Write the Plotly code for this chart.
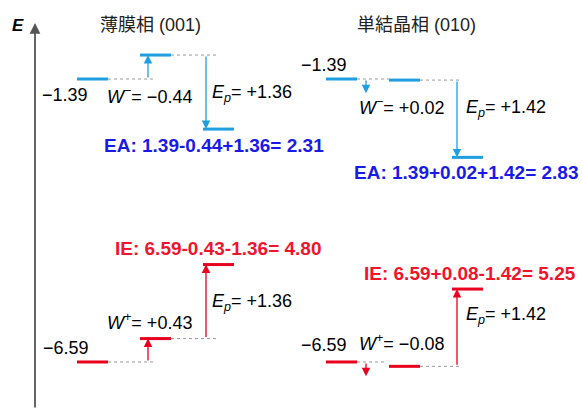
import plotly.graph_objects as go

# Energy-level data (eV) for the two phases
phases = ["薄膜相 (001)", "単結晶相 (010)"]
lumo = [-1.39, -1.39]          # gas-phase LUMO level
homo = [-6.59, -6.59]          # gas-phase HOMO level
w_minus = [-0.44, 0.02]        # electron polarization term W-
w_plus = [0.43, -0.08]         # hole polarization term W+
ep = [1.36, 1.42]              # polarization energy Ep

BLUE = "#1f9fe0"
RED = "#e8001c"
TXT_BLUE = "#1a1ae6"
TXT_RED = "#f0142d"
GRAY = "#9a9a9a"

W, H = 582, 409
Y_TOP, Y_BOT = 0.0617, -7.454

# horizontal layout of each panel (x in pixel-like units)
offset = [0, 249]
bar_x = [77, 140, 203]         # start of the three level bars in a panel
bar_w = 31
w_arrow_x = [148, 366]
ep_arrow_x = [206, 457]
dash1_end = [155, 384]
dash2_end = [217, 462]
title_x = [150, 416]
small_arrow = 0.26             # length of an indicator arrow for tiny W terms

def fmt(v, signed=True):
    s = f"{v:+.2f}" if signed else f"{v:.2f}"
    return s.replace("-", "\u2212")

fig = go.Figure()
fig.add_trace(go.Scatter(x=[None], y=[None], showlegend=False))

shapes = []
ann = []
LBL = dict(family="Liberation Sans, Arial, sans-serif", size=18, color="black")
BOLD = dict(family="Liberation Sans, Arial, sans-serif", size=19, color=TXT_BLUE)

def bar(x0, y, color):
    shapes.append(dict(type="line", xref="x", yref="y", x0=x0, x1=x0 + bar_w,
                       y0=y, y1=y, line=dict(color=color, width=3)))

def dash(x0, x1, y):
    shapes.append(dict(type="line", xref="x", yref="y", x0=x0, x1=x1, y0=y, y1=y,
                       line=dict(color=GRAY, width=1, dash="3px,3px")))

def arrow(x, y_from, y_to, color):
    ann.append(dict(x=x, y=y_to, ax=x, ay=y_from, xref="x", yref="y",
                    axref="x", ayref="y", text="", showarrow=True,
                    arrowhead=2, arrowsize=1.3, arrowwidth=1.3, arrowcolor=color,
                    standoff=0, startstandoff=0))

def label(x, y, text, font, yshift=0):
    ann.append(dict(x=x, y=y, xref="x", yref="y", text=text, showarrow=False,
                    font=font, xanchor="center", yanchor="middle", yshift=yshift))

for i in range(2):
    o = offset[i]
    xs = [b + o for b in bar_x]

    # electron side
    e1 = lumo[i]
    e2 = lumo[i] - w_minus[i]
    e3 = e2 - ep[i]
    ea = -lumo[i] + w_minus[i] + ep[i]
    bar(xs[0], e1, BLUE)
    bar(xs[1], e2, BLUE)
    bar(xs[2], e3, BLUE)
    dash(xs[0] + bar_w, dash1_end[i] if i == 0 else xs[1], e1)
    dash(xs[1] + bar_w, dash2_end[i], e2)
    if abs(w_minus[i]) > 0.1:
        arrow(w_arrow_x[i], e1, e2, BLUE)
    else:
        arrow(w_arrow_x[i], e1, e1 - small_arrow, BLUE)
    arrow(ep_arrow_x[i], e2, e3, BLUE)

    # hole side
    h1 = homo[i]
    h2 = homo[i] + w_plus[i]
    h3 = h2 + ep[i]
    ie = -homo[i] - w_plus[i] - ep[i]
    bar(xs[0], h1, RED)
    bar(xs[1], h2, RED)
    bar(xs[2], h3, RED)
    dash(xs[0] + bar_w, dash1_end[i], h1)
    dash(xs[1] + bar_w, dash2_end[i], h2)
    if abs(w_plus[i]) > 0.1:
        arrow(w_arrow_x[i], h1, h2, RED)
    else:
        arrow(w_arrow_x[i], h1, h1 - small_arrow, RED)
    arrow(ep_arrow_x[i], h2, h3, RED)

    # text labels
    ann.append(dict(x=title_x[i], y=1 - 25 / H, xref="x", yref="paper",
                    text=phases[i], showarrow=False, xanchor="center", yanchor="middle",
                    font=dict(family="Liberation Sans, Noto Sans CJK JP, sans-serif",
                              size=18, color="#222")))
    ep_txt = f"<i>E</i><sub><i>p</i></sub>= {fmt(ep[i])}"
    if i == 0:
        label(65, e1, fmt(e1, False), LBL, -16)
        label(149, e1, f"<i>W</i><sup>\u2212</sup>= {fmt(w_minus[i])}", LBL, -16)
        label(252, (e2 + e3) / 2, ep_txt, LBL, -1)
        label(214, e3, f"<b>EA: {-e1:.2f}{w_minus[i]:+.2f}{ep[i]:+.2f}= {ea:.2f}</b>",
              BOLD, -16)
        label(66, h1, fmt(h1, False), LBL, 14)
        label(149, h2, f"<i>W</i><sup>+</sup>= {fmt(w_plus[i])}", LBL, 17)
        label(252, (h2 + h3) / 2, ep_txt, LBL, -1)
        label(218, h3, f"<b>IE: {-h1:.2f}{-w_plus[i]:+.2f}{-ep[i]:+.2f}= {ie:.2f}</b>",
              dict(BOLD, color=TXT_RED), 16)
    else:
        label(324, e1, fmt(e1, False), LBL, 14)
        label(401, e1, f"<i>W</i><sup>\u2212</sup>= {fmt(w_minus[i])}", LBL, -27)
        label(506, (e2 + e3) / 2, ep_txt, LBL, 10)
        label(466, e3, f"<b>EA: {-e1:.2f}{w_minus[i]:+.2f}{ep[i]:+.2f}= {ea:.2f}</b>",
              BOLD, -15)
        label(324, h1, fmt(h1, False), LBL, 17)
        label(401, h1, f"<i>W</i><sup>+</sup>= {fmt(w_plus[i])}", LBL, 19)
        label(506, (h2 + h3) / 2, ep_txt, LBL, 12)
        label(470, h3, f"<b>IE: {-h1:.2f}{-w_plus[i]:+.2f}{-ep[i]:+.2f}= {ie:.2f}</b>",
              dict(BOLD, color=TXT_RED), 16)

# energy axis with arrow
ann.append(dict(x=35, y=1 - 23 / H, xref="x", yref="paper", ax=0, ay=386,
                axref="pixel", ayref="pixel", text="", showarrow=True,
                arrowhead=2, arrowsize=1.2, arrowwidth=1.8, arrowcolor="#555",
                standoff=0))
ann.append(dict(x=18, y=1 - 25 / H, xref="x", yref="paper", text="<b><i>E</i></b>",
                showarrow=False, xanchor="center", yanchor="middle",
                font=dict(family="Liberation Sans, Arial, sans-serif", size=17,
                          color="black")))

fig.update_layout(
    width=W, height=H, margin=dict(l=0, r=0, t=0, b=0),
    paper_bgcolor="white", plot_bgcolor="white",
    xaxis=dict(range=[0, W], visible=False, fixedrange=True),
    yaxis=dict(range=[Y_BOT, Y_TOP], visible=False, fixedrange=True),
    shapes=shapes, annotations=ann, showlegend=False,
)

fig.write_html("out.html")
